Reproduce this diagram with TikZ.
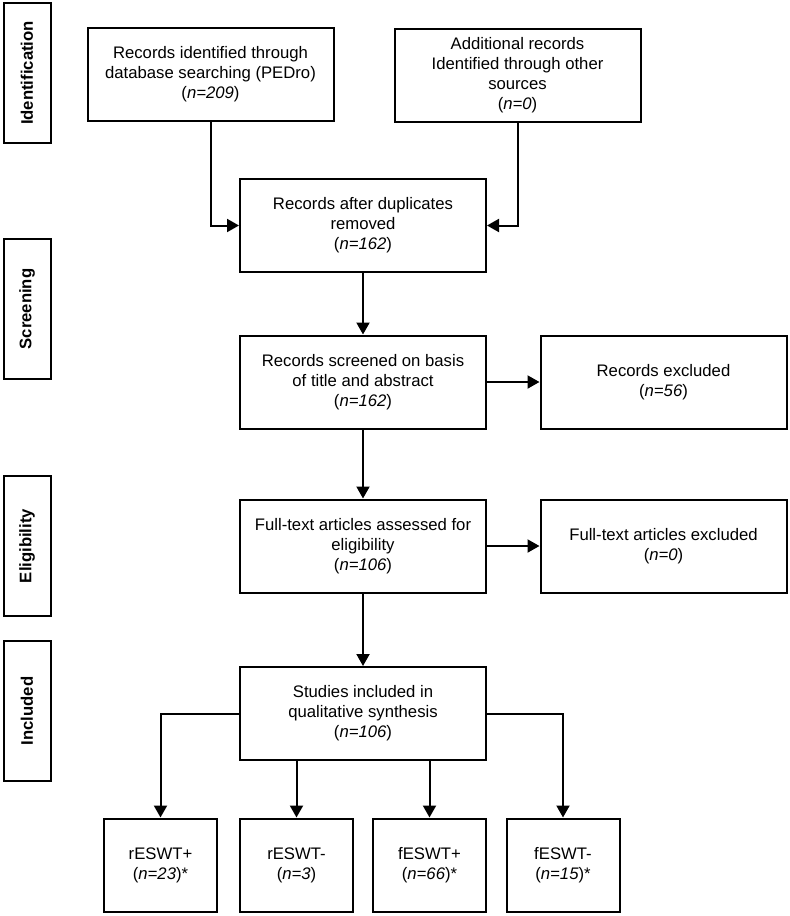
\documentclass[tikz,border=0pt]{standalone}
\usepackage{fontspec}
\setmainfont{Liberation Sans}
\usetikzlibrary{arrows.meta}
\begin{document}
\begin{tikzpicture}[x=1pt,y=-1pt,
  box/.style={draw=black,line width=2pt,align=center,inner sep=2pt,
    font=\fontsize{16.7pt}{20pt}\selectfont},
  mainbox/.style={box,minimum width=246pt,minimum height=93pt},
  smallbox/.style={box,minimum width=113pt,minimum height=93pt},
  sidebox/.style={draw=black,line width=2pt,minimum width=140pt,minimum height=47pt,
    rotate=90,font=\fontsize{16.7pt}{20pt}\selectfont\bfseries,inner sep=0pt},
  arr/.style={line width=2pt,-{Triangle[length=12pt,width=13pt]}}]
\useasboundingbox (0,0) rectangle (790,916);
% side labels
\node[sidebox] (sid) at (27,73) {Identification};
\node[sidebox] (ssc) at (27,309) {Screening};
\node[sidebox] (sel) at (27,546) {Eligibility};
\node[sidebox] (sin) at (27,711) {Included};
% main boxes
\node[mainbox] (b1) at (210.5,74) {Records identified through\\database searching (PEDro)\\(\textit{n=209})};
\node[mainbox] (b2) at (517.5,75) {Additional records\\Identified through other\\sources\\(\textit{n=0})};
\node[mainbox] (b3) at (363,225.5) {Records after duplicates\\removed\\(\textit{n=162})};
\node[mainbox] (b4) at (363,382) {Records screened on basis\\of title and abstract\\(\textit{n=162})};
\node[mainbox] (b5) at (663.5,382) {Records excluded\\(\textit{n=56})};
\node[mainbox] (b6) at (363,546) {Full-text articles assessed for\\eligibility\\(\textit{n=106})};
\node[mainbox] (b7) at (663.5,546) {Full-text articles excluded\\(\textit{n=0})};
\node[mainbox] (b8) at (363,713.5) {Studies included in\\qualitative synthesis\\(\textit{n=106})};
% bottom boxes
\node[smallbox] (r1) at (160.5,865) {rESWT+\\(\textit{n=23})*};
\node[smallbox] (r2) at (296.5,865) {rESWT-\\(\textit{n=3})};
\node[smallbox] (f1) at (429.5,865) {fESWT+\\(\textit{n=66})*};
\node[smallbox] (f2) at (563,865) {fESWT-\\(\textit{n=15})*};
% connectors
\draw[arr] (b1.south) |- (b3.west);
\draw[arr] (b2.south) |- (b3.east);
\draw[arr] (b3) -- (b4);
\draw[arr] (b4) -- (b5);
\draw[arr] (b4) -- (b6);
\draw[arr] (b6) -- (b7);
\draw[arr] (b6) -- (b8);
\draw[arr] (b8.west) -| (r1.north);
\draw[arr] (r2.north |- b8.south) -- (r2.north);
\draw[arr] (f1.north |- b8.south) -- (f1.north);
\draw[arr] (b8.east) -| (f2.north);
\end{tikzpicture}
\end{document}
